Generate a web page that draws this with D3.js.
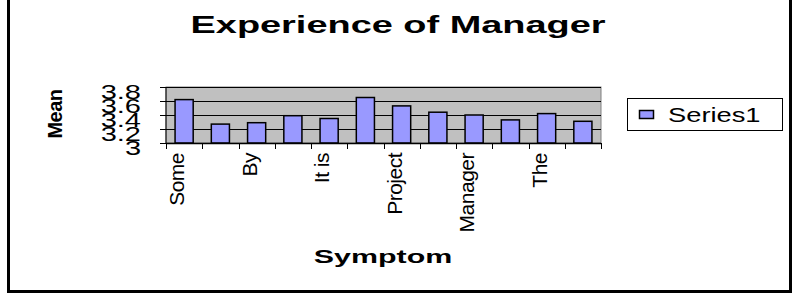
<!DOCTYPE html>
<html>
<head>
<meta charset="utf-8">
<script src="https://cdn.jsdelivr.net/npm/d3@7"></script>
<style>
  body { margin: 0; background: #fff; }
  text { font-family: "Liberation Sans", Arial, sans-serif; }
</style>
</head>
<body>
<svg width="800" height="294"></svg>
<script>
// chart data
var categories = ["Some", "", "By", "", "It is", "", "Project", "", "Manager", "", "The", ""];
var values = [3.62, 3.27, 3.29, 3.39, 3.35, 3.65, 3.53, 3.44, 3.40, 3.33, 3.42, 3.31];
var yTicks = [3, 3.2, 3.4, 3.6, 3.8];
var seriesName = "Series1";

var svg = d3.select("svg");

// outer frame
svg.append("rect")
    .attr("x", 8.5).attr("y", -5)
    .attr("width", 782).attr("height", 296.5)
    .attr("fill", "#fff")
    .attr("stroke", "#000")
    .attr("stroke-width", 3);

// scales
var x = d3.scaleBand()
    .domain(d3.range(values.length))
    .range([166, 601])
    .paddingInner(0.5)
    .paddingOuter(0.25);

var y = d3.scaleLinear()
    .domain([3, 3.8])
    .range([143, 87]);

var step = x.step();

// plot background
svg.append("rect")
    .attr("x", 166).attr("y", y(3.8))
    .attr("width", 435).attr("height", y(3) - y(3.8))
    .attr("fill", "#c0c0c0")
    .attr("stroke", "#808080")
    .attr("stroke-width", 1);

// gridlines
svg.selectAll(".grid")
    .data(yTicks.slice(1))
    .enter().append("line")
    .attr("x1", 166).attr("x2", 601)
    .attr("y1", function(d){ return Math.round(y(d)) + 0.5 })
    .attr("y2", function(d){ return Math.round(y(d)) + 0.5 })
    .attr("stroke", "#000")
    .attr("stroke-width", 1);

// bars
svg.selectAll(".bar")
    .data(values)
    .enter().append("rect")
    .attr("x", function(d, i){ return x(i) })
    .attr("y", function(d){ return y(d) })
    .attr("width", x.bandwidth())
    .attr("height", function(d){ return y(3) - y(d) })
    .attr("fill", "#9999ff")
    .attr("stroke", "#000")
    .attr("stroke-width", 1.5);

// y axis
var yAxis = svg.append("g").attr("transform", "translate(166,0)");
yAxis.append("line")
    .attr("x1", 0).attr("x2", 0)
    .attr("y1", y(3.8)).attr("y2", y(3))
    .attr("stroke", "#000");
yAxis.selectAll(".tick")
    .data(yTicks)
    .enter().append("line")
    .attr("x1", -6).attr("x2", 0)
    .attr("y1", function(d){ return Math.round(y(d)) + 0.5 })
    .attr("y2", function(d){ return Math.round(y(d)) + 0.5 })
    .attr("stroke", "#000");

svg.selectAll(".ylab")
    .data(yTicks)
    .enter().append("text")
    .attr("transform", function(d){ return "translate(141," + (y(d) + 11.5) + ") scale(1.45,1)" })
    .attr("text-anchor", "end")
    .style("font-size", "20px")
    .text(function(d){ return d3.format("")(d) });

// x axis
svg.append("line")
    .attr("x1", 166).attr("x2", 601)
    .attr("y1", 143.5).attr("y2", 143.5)
    .attr("stroke", "#000")
    .attr("stroke-width", 1.5);

svg.selectAll(".xtick")
    .data(d3.range(values.length + 1))
    .enter().append("line")
    .attr("x1", function(i){ return Math.round(166 + i * step) + 0.5 })
    .attr("x2", function(i){ return Math.round(166 + i * step) + 0.5 })
    .attr("y1", 143).attr("y2", 149)
    .attr("stroke", "#000");

svg.selectAll(".xlab")
    .data(categories)
    .enter().append("text")
    .attr("transform", function(d, i){ return "translate(" + (x(i) + x.bandwidth() / 2) + ",153) rotate(-90)" })
    .attr("text-anchor", "end")
    .style("font-size", "21px")
    .style("letter-spacing", "-0.5px")
    .text(function(d){ return d });

// titles
svg.append("text")
    .attr("transform", "translate(398,33) scale(1.58,1)")
    .attr("text-anchor", "middle")
    .style("font-size", "24px")
    .style("font-weight", "bold")
    .text("Experience of Manager");

svg.append("text")
    .attr("transform", "translate(383,263) scale(1.6,1)")
    .attr("text-anchor", "middle")
    .style("font-size", "19px")
    .style("font-weight", "bold")
    .text("Symptom");

svg.append("text")
    .attr("transform", "translate(62,114) rotate(-90)")
    .attr("text-anchor", "middle")
    .style("font-size", "20px")
    .style("font-weight", "bold")
    .style("letter-spacing", "-0.5px")
    .text("Mean");

// legend
var legend = svg.append("g");
legend.append("rect")
    .attr("x", 627.5).attr("y", 98.5)
    .attr("width", 155).attr("height", 32)
    .attr("fill", "#fff")
    .attr("stroke", "#000")
    .attr("stroke-width", 1);
legend.append("rect")
    .attr("x", 639.5).attr("y", 110.5)
    .attr("width", 14).attr("height", 8)
    .attr("fill", "#9999ff")
    .attr("stroke", "#000")
    .attr("stroke-width", 1.5);
legend.append("text")
    .attr("transform", "translate(668,122) scale(1.3,1)")
    .style("font-size", "21px")
    .text(seriesName);
</script>
</body>
</html>
